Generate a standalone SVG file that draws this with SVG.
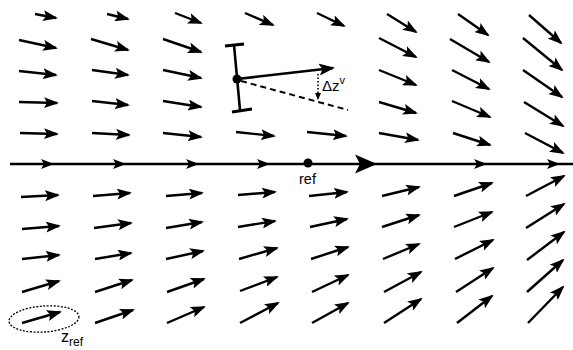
<svg xmlns="http://www.w3.org/2000/svg" width="573" height="350" viewBox="0 0 573 350">
<style>
.f line{stroke:#000;stroke-width:2.4;marker-end:url(#ah)}
.t{font-family:"Liberation Sans",Arial,sans-serif;fill:#000}
</style>
<defs>
<marker id="ah" markerUnits="userSpaceOnUse" markerWidth="15" markerHeight="11" viewBox="0 0 15 11" refX="13" refY="5.5" orient="auto"><path d="M0,0 L15,5.5 L0,11 L3,5.5 Z" fill="#000"/></marker>
<marker id="ahb" markerUnits="userSpaceOnUse" markerWidth="16" markerHeight="12" viewBox="0 0 16 12" refX="14" refY="6" orient="auto"><path d="M0,0 L16,6 L0,12 L3.5,6 Z" fill="#000"/></marker>
<marker id="ahs" markerUnits="userSpaceOnUse" markerWidth="7" markerHeight="6" viewBox="0 0 7 6" refX="6" refY="3" orient="auto"><path d="M0,0 L7,3 L0,6 Z" fill="#000"/></marker>
<path id="hs" d="M0,0 L-13,-5 L-10,0 L-13,5 Z" fill="#000"/>
<path id="hb" d="M0,0 L-22,-9.5 L-17,0 L-22,9.5 Z" fill="#000"/>
</defs>
<rect width="573" height="350" fill="#fff"/>
<g id="field" class="f">
<line x1="35" y1="14" x2="56" y2="18"/><line x1="107" y1="14" x2="128" y2="19"/><line x1="175" y1="13" x2="201" y2="23"/><line x1="245" y1="13" x2="273" y2="25"/><line x1="317" y1="13" x2="344" y2="26"/><line x1="387" y1="14" x2="416" y2="32"/><line x1="458" y1="14" x2="488" y2="35"/><line x1="529" y1="15" x2="561" y2="43"/>
<line x1="19" y1="40" x2="56" y2="48"/><line x1="91" y1="39" x2="128" y2="50"/><line x1="163" y1="39" x2="201" y2="52"/><line x1="379" y1="38" x2="416" y2="57"/><line x1="450" y1="39" x2="489" y2="62"/><line x1="523" y1="38" x2="562" y2="70"/>
<line x1="19" y1="71" x2="56" y2="75"/><line x1="92" y1="70" x2="128" y2="75"/><line x1="163" y1="70" x2="201" y2="78"/><line x1="379" y1="70" x2="416" y2="85"/><line x1="452" y1="70" x2="489" y2="89"/><line x1="523" y1="70" x2="562" y2="97"/>
<line x1="19" y1="102" x2="57" y2="103"/><line x1="92" y1="101" x2="128" y2="105"/><line x1="163" y1="101" x2="201" y2="107"/><line x1="379" y1="102" x2="416" y2="113"/><line x1="452" y1="101" x2="490" y2="117"/><line x1="524" y1="102" x2="563" y2="126"/>
<line x1="20" y1="133" x2="57" y2="134"/><line x1="92" y1="133" x2="129" y2="135"/><line x1="163" y1="133" x2="201" y2="137"/><line x1="236" y1="132" x2="274" y2="136"/><line x1="307" y1="132" x2="346" y2="136"/><line x1="379" y1="133" x2="418" y2="140"/><line x1="453" y1="133" x2="490" y2="145"/><line x1="525" y1="133" x2="563" y2="153"/>
<line x1="21" y1="197" x2="58" y2="195"/><line x1="93" y1="196" x2="130" y2="193"/><line x1="166" y1="196" x2="202" y2="193"/><line x1="238" y1="195" x2="275" y2="192"/><line x1="309" y1="196" x2="347" y2="192"/><line x1="382" y1="196" x2="419" y2="187"/><line x1="454" y1="196" x2="492" y2="183"/><line x1="526" y1="196" x2="564" y2="176"/>
<line x1="22" y1="229" x2="59" y2="226"/><line x1="94" y1="228" x2="131" y2="223"/><line x1="166" y1="228" x2="202" y2="222"/><line x1="238" y1="227" x2="275" y2="221"/><line x1="310" y1="227" x2="347" y2="219"/><line x1="382" y1="227" x2="419" y2="215"/><line x1="454" y1="227" x2="492" y2="212"/><line x1="526" y1="228" x2="564" y2="204"/>
<line x1="22" y1="259" x2="59" y2="255"/><line x1="95" y1="259" x2="131" y2="253"/><line x1="166" y1="259" x2="203" y2="251"/><line x1="239" y1="259" x2="277" y2="248"/><line x1="311" y1="259" x2="348" y2="247"/><line x1="383" y1="259" x2="419" y2="244"/><line x1="455" y1="259" x2="493" y2="240"/><line x1="527" y1="260" x2="564" y2="232"/>
<line x1="22" y1="292" x2="59" y2="281"/><line x1="95" y1="292" x2="132" y2="280"/><line x1="167" y1="292" x2="204" y2="279"/><line x1="240" y1="291" x2="277" y2="277"/><line x1="312" y1="292" x2="348" y2="275"/><line x1="384" y1="292" x2="421" y2="272"/><line x1="456" y1="292" x2="493" y2="268"/><line x1="527" y1="292" x2="563" y2="260"/>
<line x1="22" y1="323" x2="60" y2="312"/><line x1="95" y1="323" x2="133" y2="310"/><line x1="167" y1="323" x2="204" y2="307"/><line x1="240" y1="323" x2="278" y2="303"/><line x1="312" y1="323" x2="348" y2="303"/><line x1="384" y1="323" x2="421" y2="299"/><line x1="457" y1="323" x2="492" y2="296"/><line x1="528" y1="323" x2="563" y2="287"/>
</g>
<g id="reference-path">
<line x1="10" y1="164" x2="573" y2="164" stroke="#000" stroke-width="2.6"/>
<use href="#hs" x="54" y="164"/><use href="#hs" x="126" y="164"/><use href="#hs" x="199" y="164"/><use href="#hs" x="270" y="164"/><use href="#hb" x="377" y="164"/><use href="#hs" x="487" y="164"/><use href="#hs" x="560" y="164"/>
</g>
<g id="ref">
<circle cx="308" cy="163" r="4.5" fill="#000"/>
<text class="t" x="299" y="184" font-size="14.5">ref</text>
</g>
<g id="vehicle">
<line x1="234" y1="45" x2="240" y2="110" stroke="#000" stroke-width="2.6"/>
<line x1="225" y1="46" x2="244" y2="44" stroke="#000" stroke-width="3.2"/>
<line x1="232" y1="112" x2="252" y2="109" stroke="#000" stroke-width="3.2"/>
<circle cx="237" cy="79" r="4.5" fill="#000"/>
<line x1="237" y1="79" x2="333" y2="68" stroke="#000" stroke-width="2.6" marker-end="url(#ahb)"/>
<line x1="241" y1="81" x2="348" y2="110" stroke="#000" stroke-width="2" stroke-dasharray="6 4"/>
<line x1="318" y1="74" x2="318" y2="99" stroke="#000" stroke-width="1.6" stroke-dasharray="1.5 2" marker-end="url(#ahs)"/>
<text class="t" x="322" y="91" font-size="15">Δz<tspan font-size="11" dy="-7">v</tspan></text>
</g>
<g id="zref">
<ellipse cx="44" cy="319" rx="35" ry="13" fill="none" stroke="#000" stroke-width="1.3" stroke-dasharray="2 1.5" transform="rotate(-4 44 319)"/>
<text class="t" x="61" y="342" font-size="16">z<tspan font-size="12" dy="3.5">ref</tspan></text>
</g>
</svg>
